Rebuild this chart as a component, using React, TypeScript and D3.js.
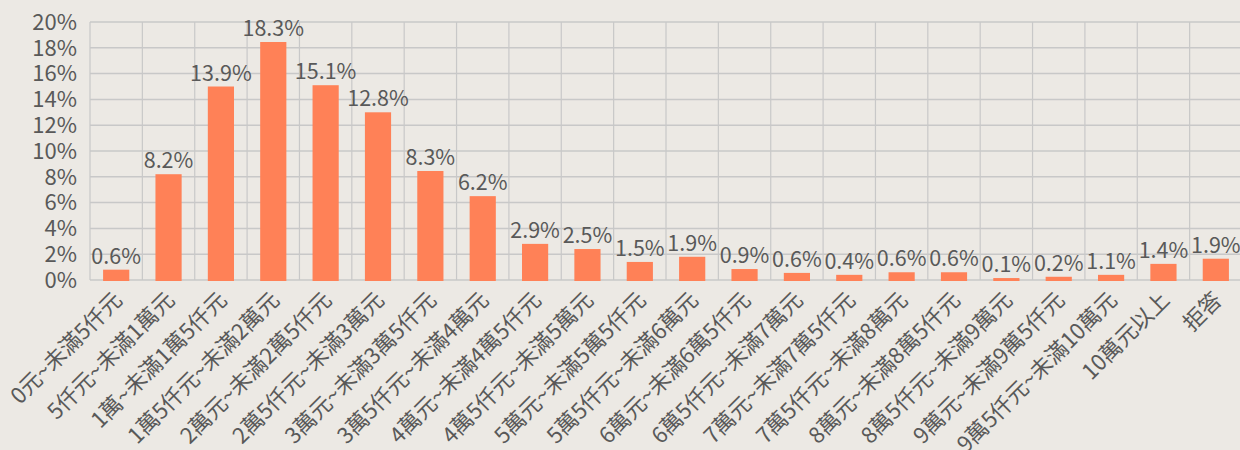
import React, { useEffect, useRef } from 'react';
import * as d3 from 'd3';

// income brackets (x axis)
const categories = [
  '0元~未滿5仟元',
  '5仟元~未滿1萬元',
  '1萬~未滿1萬5仟元',
  '1萬5仟元~未滿2萬元',
  '2萬元~未滿2萬5仟元',
  '2萬5仟元~未滿3萬元',
  '3萬元~未滿3萬5仟元',
  '3萬5仟元~未滿4萬元',
  '4萬元~未滿4萬5仟元',
  '4萬5仟元~未滿5萬元',
  '5萬元~未滿5萬5仟元',
  '5萬5仟元~未滿6萬元',
  '6萬元~未滿6萬5仟元',
  '6萬5仟元~未滿7萬元',
  '7萬元~未滿7萬5仟元',
  '7萬5仟元~未滿8萬元',
  '8萬元~未滿8萬5仟元',
  '8萬5仟元~未滿9萬元',
  '9萬元~未滿9萬5仟元',
  '9萬5仟元~未滿10萬元',
  '10萬元以上',
  '拒答',
];

// bar heights as drawn (percent)
const barValues = [
  0.8, 8.2, 15.0, 18.45, 15.1, 13.0, 8.45, 6.5, 2.8, 2.4, 1.4,
  1.8, 0.85, 0.55, 0.4, 0.6, 0.6, 0.15, 0.25, 0.4, 1.25, 1.65,
];

// data labels printed above the bars
const dataLabels = [
  '0.6%', '8.2%', '13.9%', '18.3%', '15.1%', '12.8%', '8.3%', '6.2%', '2.9%', '2.5%', '1.5%',
  '1.9%', '0.9%', '0.6%', '0.4%', '0.6%', '0.6%', '0.1%', '0.2%', '1.1%', '1.4%', '1.9%',
];

// y axis ticks
const yTicks = [0, 2, 4, 6, 8, 10, 12, 14, 16, 18, 20];

const W = 1240;
const H = 450;
const FONT = '"Noto Sans CJK TC", "Noto Sans", sans-serif';
const TEXT = '#595959';
const GRID = '#c8c8c8';

const App = () => {
  const ref = useRef<SVGSVGElement>(null);

  useEffect(() => {
    const svg = d3.select(ref.current);
    svg.selectAll('*').remove();

    const left = 90;
    const right = 1242;
    const top = 22;
    const bottom = 280;

    const x = d3.scaleBand().domain(categories).range([left, right]).paddingInner(0).paddingOuter(0);
    const y = d3.scaleLinear().domain([0, 20]).range([bottom, top]);
    const bw = x.bandwidth();
    const barW = bw * 0.5;

    svg.append('rect').attr('width', W).attr('height', H).attr('fill', '#ece9e4');

    // horizontal grid
    svg.append('g')
      .selectAll('line')
      .data(yTicks)
      .enter().append('line')
      .attr('x1', left).attr('x2', right)
      .attr('y1', d => y(d)).attr('y2', d => y(d))
      .attr('stroke', GRID).attr('stroke-width', 1.5);

    // vertical grid at band edges
    const edges = categories.map(c => x(c) as number);
    svg.append('g')
      .selectAll('line')
      .data(edges)
      .enter().append('line')
      .attr('x1', d => d).attr('x2', d => d)
      .attr('y1', top).attr('y2', bottom)
      .attr('stroke', GRID).attr('stroke-width', 1.2);

    // y tick labels
    svg.append('g')
      .selectAll('text')
      .data(yTicks)
      .enter().append('text')
      .attr('x', 77)
      .attr('y', d => y(d))
      .attr('dy', '0.35em')
      .attr('text-anchor', 'end')
      .style('font-family', FONT)
      .style('font-size', '22px')
      .attr('fill', TEXT)
      .text(d => `${d}%`);

    // bars
    svg.append('g')
      .selectAll('rect')
      .data(barValues)
      .enter().append('rect')
      .attr('x', (d, i) => (x(categories[i]) as number) + (bw - barW) / 2)
      .attr('y', d => y(d))
      .attr('width', barW)
      .attr('height', d => bottom + 1 - y(d))
      .attr('fill', '#ff8157');

    // data labels
    svg.append('g')
      .selectAll('text')
      .data(barValues)
      .enter().append('text')
      .attr('x', (d, i) => (x(categories[i]) as number) + bw / 2)
      .attr('y', d => y(d) - 6)
      .attr('text-anchor', 'middle')
      .style('font-family', FONT)
      .style('font-size', '21.5px')
      .attr('fill', TEXT)
      .text((d, i) => dataLabels[i]);

    // rotated category labels
    svg.append('g')
      .selectAll('text')
      .data(categories)
      .enter().append('text')
      .attr('transform', d => `translate(${(x(d) as number) + bw / 2 + 2},${bottom + 16}) rotate(-45)`)
      .attr('dy', '0.35em')
      .attr('text-anchor', 'end')
      .style('font-family', FONT)
      .style('font-size', '22px')
      .attr('fill', TEXT)
      .text(d => d);
  }, []);

  return (
    <svg
      ref={ref}
      width={W}
      height={H}
      style={{ position: 'absolute', left: 0, top: 0, display: 'block' }}
    />
  );
};

export default App;
